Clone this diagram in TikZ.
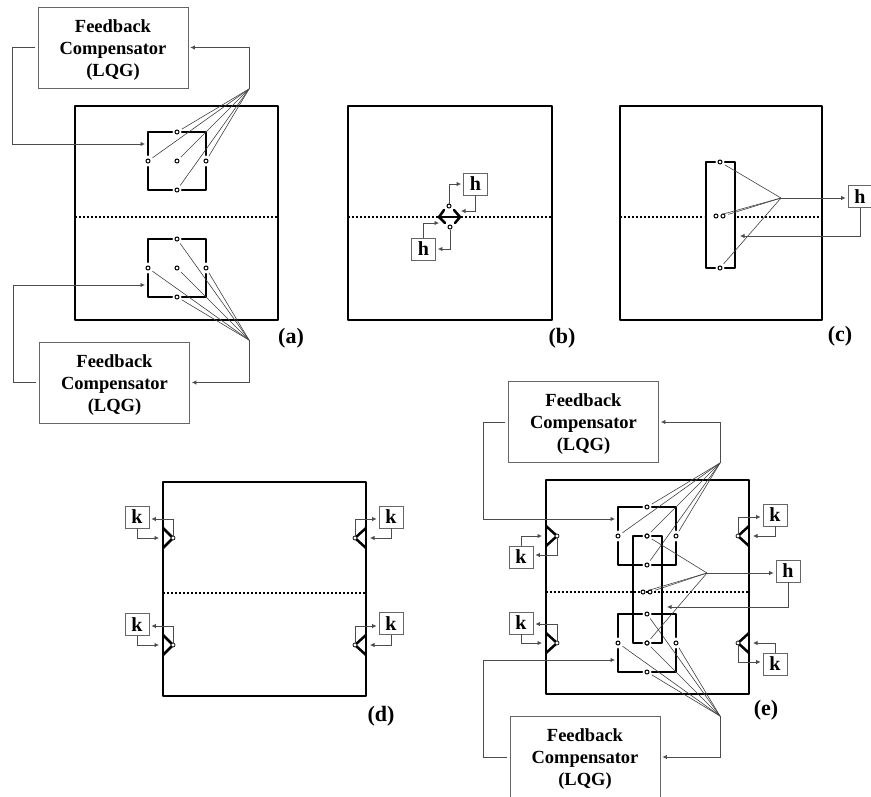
\documentclass[tikz,border=0pt]{standalone}
\usepackage{fontspec}
\setmainfont{Liberation Serif}
\usetikzlibrary{
    arrows.meta
}

\begin{document}
\begin{tikzpicture}[x=1pt,y=-1pt,
    panel/.style={line width=2.5pt,line cap=round,line join=round},
    midline/.style={line width=2pt,dash pattern=on 2pt off 2pt},
    wall/.style={line width=2.5pt,line cap=round,line join=round},
    sensor/.style={circle,draw,fill=white,line width=1pt,inner sep=0pt,minimum size=4pt},
    probe/.style={line width=0.6pt,draw=black!75,shorten <=3pt},
    link/.style={line width=0.8pt,draw=black!70,-{Latex[length=4.5pt,width=4.5pt]},shorten >=2pt},
    compbox/.style={draw=black!60,line width=0.8pt,minimum width=150pt,minimum height=81pt,inner sep=0pt},
    comptext/.style={inner sep=0pt,align=center,font=\fontsize{18.5}{22}\selectfont\bfseries},
    gainbox/.style={draw=black!60,line width=0.8pt,minimum width=24pt,minimum height=22pt,inner sep=0pt,
        font=\fontsize{20}{20}\selectfont\bfseries},
    panellabel/.style={inner sep=0pt,font=\fontsize{22}{22}\selectfont\bfseries}
]
\useasboundingbox (0,0) rectangle (871,796);

% Plate outlines
\foreach \xa/\ya/\xb/\yb in {75/106/278/320,348/106/552/320,620/106/822/320,163/482/366/696,546/480/749/694}
    \draw[panel] (\xa,\ya) rectangle (\xb,\yb);

% Mid lines
\draw[midline] (75,217) -- (278,217);
\draw[midline] (348,217) -- (438,217);
\draw[midline] (461,217) -- (552,217);
\draw[midline] (620,217) -- (704,217);
\draw[midline] (737,217) -- (822,217);
\draw[midline] (163,593) -- (366,593);
\draw[midline] (546,592) -- (749,592);

% Compensators
\foreach \cp/\cx/\cy in {compa/113/47.5,compb/114.5/382.5,compc/583.5/422,compd/585/757}{
    \node[compbox] (\cp) at (\cx,\cy) {};
    \node[comptext] (\cp-text) at (\cx,\cy+2.5) {Feedback\\Compensator\\(LQG)};
}

% Square patches with five sensors, fed back from a junction
\foreach \sq/\cx/\cy/\jx/\jy in {ua/177/161/249/89,la/177/268/249/340,ue/647/536/720/463,le/647/643/720/716}{
    \draw[wall] (\cx-5,\cy-29) -- (\cx-29,\cy-29) -- (\cx-29,\cy-6);
    \draw[wall] (\cx+5,\cy-29) -- (\cx+29,\cy-29) -- (\cx+29,\cy-6);
    \draw[wall] (\cx-5,\cy+29) -- (\cx-29,\cy+29) -- (\cx-29,\cy+6);
    \draw[wall] (\cx+5,\cy+29) -- (\cx+29,\cy+29) -- (\cx+29,\cy+6);
    \node[sensor] (\sq-t) at (\cx,\cy-29) {};
    \node[sensor] (\sq-l) at (\cx-29,\cy) {};
    \node[sensor] (\sq-c) at (\cx,\cy) {};
    \node[sensor] (\sq-r) at (\cx+29,\cy) {};
    \node[sensor] (\sq-b) at (\cx,\cy+29) {};
    \coordinate (\sq-j) at (\jx,\jy);
    \foreach \s in {t,l,c,r,b}
        \draw[probe] (\sq-\s) -- (\sq-j);
}

% Feedback loops of (a)
\coordinate (ua-in) at (147,144);
\coordinate (la-in) at (147,285);
\draw[link] ([xshift=-3pt]compa.west) -| (12,144) -- (ua-in);
\draw[link] (ua-j) |- (compa.east);
\draw[link] ([xshift=-3pt]compb.west) -| (13,285) -- (la-in);
\draw[link] (la-j) |- (compb.east);

% Feedback loops of (e)
\coordinate (ue-in) at (617,519);
\coordinate (le-in) at (617,660);
\draw[link] ([xshift=-3pt]compc.west) -| (483,519) -- (ue-in);
\draw[link] (ue-j) |- (compc.east);
\draw[link] ([xshift=-3pt]compd.west) -| (483,660) -- (le-in);
\draw[link] (le-j) |- (compd.east);

% Diamond patch of (b)
\node[sensor] (bt) at (449,206) {};
\node[sensor] (bb) at (450,227) {};
\draw[wall] (444,210) -- (439,217) -- (445,223);
\draw[wall] (454,210) -- (460,217) -- (455,223);
\draw[wall] (439,217) -- (460,217);
\node[gainbox] (hu) at (475.5,184) {h};
\node[gainbox] (hl) at (423.5,249) {h};
\coordinate (bu-in) at (459,211);
\coordinate (bl-in) at (441,223);
\draw[link] (bt) |- (hu.west);
\draw[link] (hu.south) |- (bu-in);
\draw[link] (hl.north) |- (bl-in);
\draw[link] (bb) |- (hl.east);

% Long patch of (c)
\draw[wall] (715,162) -- (706,162) -- (706,268) -- (715,268);
\draw[wall] (725,162) -- (735,162) -- (735,268) -- (725,268);
\node[sensor] (ct) at (720,162) {};
\node[sensor] (cl) at (716,216) {};
\node[sensor] (cr) at (723,216) {};
\node[sensor] (cb) at (720,268) {};
\coordinate (cj) at (781,198);
\coordinate (c-in) at (738,236);
\foreach \s in {ct,cl,cr,cb}
    \draw[probe] (\s) -- (cj);
\node[gainbox] (hc) at (860,196.5) {h};
\draw[link] (cj) -- (hc.west |- cj);
\draw[link] (hc.south) |- (c-in);

% Long patch of (e)
\draw[wall] (642,536) -- (633,536) -- (633,643) -- (642,643);
\draw[wall] (652,536) -- (662,536) -- (662,643) -- (652,643);
\node[sensor] (el) at (643,592) {};
\node[sensor] (er) at (650,592) {};
\coordinate (ej) at (707,573);
\coordinate (e-in) at (665,607);
\foreach \s in {ue-c,el,er,le-c}
    \draw[probe] (\s) -- (ej);
\node[gainbox] (he) at (788,571) {h};
\draw[link] (ej) -- (he.west |- ej);
\draw[link] (he.south) |- (e-in);
\node[sensor] (ue-c2) at (647,536) {};
\node[sensor] (le-c2) at (647,643) {};

% Wedge actuators with their gains
\foreach \nm/\bx/\by/\sx/\sy/\wx/\ix/\oy/\an/\bn in {
    da/137/517/173/538/163/161/519/east/south,
    db/391/517/355/538/366/368/519/west/south,
    dc/137/624.5/173/645/163/161/626/east/south,
    dd/391/623.5/355/645/366/368/626/west/south,
    ea/521/557/557/536/546/544/555/east/north,
    eb/521/623/557/643/546/544/624/east/south,
    ec/775/515/738/536/749/751/517/west/south,
    ed/775/664/738/643/749/751/662/west/north}{
    \coordinate (t\nm) at (\sx,\sy);
    \draw[wall] (\wx,\sy-10) -- (t\nm) -- (\wx,\sy+10);
    \node[sensor,line width=0.7pt] (s\nm) at (\sx,\sy) {};
    \node[gainbox] (k\nm) at (\bx,\by) {k};
    \coordinate (o\nm) at (\sx,\oy);
    \coordinate (i\nm) at (\ix,\sy);
    \draw[link] (s\nm) -- (o\nm) -- (k\nm.\an |- o\nm);
    \draw[link] (k\nm.\bn) |- (i\nm);
}

% Labels
\node[panellabel] (laba) at (291,338) {(a)};
\node[panellabel] (labb) at (562,338) {(b)};
\node[panellabel] (labc) at (840,336) {(c)};
\node[panellabel] (labd) at (381,716) {(d)};
\node[panellabel] (labe) at (766,710) {(e)};
\end{tikzpicture}
\end{document}
